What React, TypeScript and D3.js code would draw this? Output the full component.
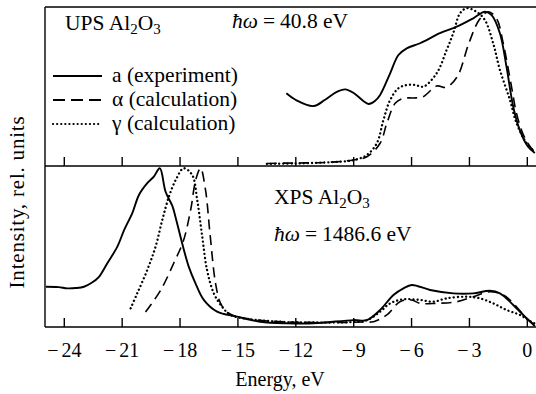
import React from "react";
import * as d3 from "d3";

// Energy (eV) and intensity (% of panel height) for the UPS panel
const upsExperimentE = [-12.49, -12.0, -11.08, -10.5, -9.9, -9.44, -9.0, -8.5, -8.23, -7.9, -7.63, -7.11, -6.68, -6.25, -5.56, -4.53, -3.66, -2.8, -2.2, -1.85, -1.42, -1.08, -0.73, -0.39, 0.04, 0.39];
const upsExperimentI = [45.7, 41.5, 37.7, 41.5, 46.5, 48.2, 45.9, 40.9, 39.0, 40.9, 44.7, 58.3, 69.8, 74.0, 77.2, 83.5, 87.6, 92.9, 97.0, 94.9, 83.5, 62.5, 37.3, 22.6, 12.1, 8.2];

const upsAlphaE = [-13.5, -12, -10.5, -9.0, -8.32, -7.63, -7.28, -6.85, -6.42, -5.9, -5.4, -4.7, -4.2, -3.63, -3.03, -2.5, -2.03, -1.6, -1.25, -0.82, -0.56, -0.2, 0.2, 0.45];
const upsAlphaI = [1.6, 1.9, 2.2, 3.8, 5.8, 14.3, 26.9, 39.4, 42.6, 42.8, 43.6, 50.3, 49.5, 56.2, 77.2, 91.8, 97.0, 92.9, 77.2, 49.9, 33.1, 19.5, 11.3, 8.2];

const upsGammaE = [-13.5, -12, -10.5, -9.3, -8.84, -8.32, -7.8, -7.46, -7.11, -6.68, -6.25, -5.8, -5.39, -4.7, -4.18, -3.84, -3.49, -3.15, -2.63, -2.2, -1.77, -1.42, -0.9, -0.56, -0.04, 0.39];
const upsGammaI = [1.3, 1.6, 2.2, 3.1, 4.2, 6.9, 14.3, 28.9, 41.5, 48.9, 50.9, 50.9, 49.9, 58.3, 73.0, 83.5, 96.0, 99.2, 97.0, 91.8, 77.2, 60.4, 41.5, 27.0, 14.5, 9.0];

// Energy (eV) and intensity (% of panel height) for the XPS panel
const xpsExperimentE = [-24.95, -24.3, -23.84, -23.4, -22.98, -22.6, -22.2, -21.77, -21.25, -20.9, -20.48, -20.13, -19.7, -19.36, -19.05, -18.75, -18.4, -18.24, -17.89, -17.55, -17.2, -16.77, -16.08, -15.04, -13.84, -12.46, -11.08, -9.01, -8.32, -7.63, -6.94, -6.42, -5.99, -5.04, -3.84, -2.8, -1.94, -1.42, -0.73, -0.04, 0.39];
const xpsExperimentI = [25.0, 24.8, 24.0, 24.2, 25.0, 27.3, 31.2, 39.6, 49.9, 60.2, 70.6, 82.0, 89.3, 93.4, 98.6, 84.0, 75.2, 68.5, 52.0, 37.5, 27.1, 16.8, 9.5, 6.4, 3.3, 2.3, 2.3, 4.3, 4.3, 10.6, 19.9, 24.0, 26.1, 23.0, 20.9, 20.9, 22.5, 20.9, 13.7, 5.4, 0.6];

const xpsAlphaE = [-19.79, -19.0, -18.3, -17.83, -17.45, -17.19, -16.94, -16.68, -16.45, -16.16, -15.9, -15.5, -15.0, -14, -12.5, -11, -9.5, -8.5, -7.97, -7.28, -6.6, -6.0, -5.56, -4.7, -3.66, -2.8, -1.94, -1.25, -0.73, -0.04, 0.4];
const xpsAlphaI = [9.3, 23.0, 40.4, 53.4, 72.7, 91.3, 98.6, 85.1, 58.2, 27.1, 14.7, 8.7, 6.2, 4.3, 3.1, 2.8, 2.8, 3.1, 3.3, 7.5, 15.7, 16.8, 14.7, 14.7, 15.7, 18.8, 21.9, 19.9, 14.7, 5.4, 1.2];

const xpsGammaE = [-20.56, -20.22, -19.7, -19.27, -18.92, -18.58, -18.2, -17.81, -17.37, -17.11, -16.85, -16.6, -16.25, -15.82, -15.39, -14.5, -13, -11, -9.0, -8.3, -7.63, -7.11, -6.42, -5.56, -4.87, -4.18, -3.15, -2.46, -1.77, -1.08, -0.39, 0.2, 0.45];
const xpsGammaI = [11.6, 20.9, 35.4, 49.9, 66.5, 80.9, 91.9, 98.6, 94.4, 78.9, 56.1, 35.4, 20.9, 12.6, 7.5, 5.0, 3.4, 2.8, 3.1, 4.3, 9.5, 14.7, 17.2, 16.8, 15.7, 17.8, 18.8, 17.8, 14.7, 10.6, 7.5, 3.3, 1.9];

const xTicks = [-24, -21, -18, -15, -12, -9, -6, -3, 0];
const legendLabels = ["a (experiment)", "\u03b1 (calculation)", "\u03b3 (calculation)"];
const upsEnergyLabel = "40.8 eV";
const xpsEnergyLabel = "1486.6 eV";

const W = 536;
const H = 394;
const left = 45;
const right = 536;
const top = 7;
const mid = 166;
const bottom = 327;
const fontFamily = '"Liberation Serif", "Times New Roman", serif';
const txt = { fontFamily, fontSize: 20, fill: "#000" } as const;
const big = { fontFamily, fontSize: 21.5, fill: "#000" } as const;

const dashStyles = ["none", "10 6", "0.1 4"];

export default function App() {
  const x = d3.scaleLinear().domain([-25, 0.45]).range([left, right]);
  const yUps = d3.scaleLinear().domain([0, 100]).range([mid, top]);
  const yXps = d3.scaleLinear().domain([0, 100]).range([bottom, mid]);

  const mk = (xs: number[], ys: number[], y: d3.ScaleLinear<number, number>) =>
    d3
      .line<number>()
      .x((_, i) => x(xs[i]))
      .y((v) => y(v))
      .curve(d3.curveCatmullRom.alpha(0.5))(ys) || "";

  const upsPaths = [
    mk(upsExperimentE, upsExperimentI, yUps),
    mk(upsAlphaE, upsAlphaI, yUps),
    mk(upsGammaE, upsGammaI, yUps),
  ];
  const xpsPaths = [
    mk(xpsExperimentE, xpsExperimentI, yXps),
    mk(xpsAlphaE, xpsAlphaI, yXps),
    mk(xpsGammaE, xpsGammaI, yXps),
  ];

  const curve = (d: string, k: number, key: string) => (
    <path
      key={key}
      d={d}
      fill="none"
      stroke="#000"
      strokeWidth={k === 0 ? 1.9 : k === 1 ? 1.6 : 2.3}
      strokeDasharray={dashStyles[k]}
      strokeLinecap={k === 2 ? "round" : "butt"}
    />
  );

  const sub = (s: string) => (
    <tspan dy={4} style={{ fontSize: 15 }}>
      {s}
    </tspan>
  );

  const title = (name: string, tx: number, ty: number) => (
    <text x={tx} y={ty} style={big}>
      {name} Al{sub("2")}
      <tspan dy={-4}>O</tspan>
      {sub("3")}
    </text>
  );

  const energy = (label: string, tx: number, ty: number) => (
    <text x={tx} y={ty} style={big}>
      <tspan style={{ fontStyle: "italic" }}>{"\u0127\u03c9"}</tspan>
      <tspan dx={5}>=</tspan>
      <tspan dx={5}>{label}</tspan>
    </text>
  );

  return (
    <svg
      width={W}
      height={H}
      style={{ position: "absolute", left: 0, top: 0, background: "#fff", fontFamily }}
    >
      <defs>
        <clipPath id="plotArea">
          <rect x={left} y={top} width={right - left} height={bottom - top} />
        </clipPath>
      </defs>

      {/* frame and inward ticks */}
      <g stroke="#000" strokeWidth={1.4} fill="none">
        <line x1={left} x2={right} y1={top} y2={top} />
        <line x1={left} x2={right} y1={mid} y2={mid} />
        <line x1={left} x2={right} y1={bottom} y2={bottom} />
        <line x1={left} x2={left} y1={top} y2={bottom} />
        {xTicks.map((t) => (
          <g key={t}>
            <line x1={x(t)} x2={x(t)} y1={mid} y2={mid - 9} />
            <line x1={x(t)} x2={x(t)} y1={bottom} y2={bottom - 9} />
          </g>
        ))}
      </g>

      <g clipPath="url(#plotArea)">
        {upsPaths.map((d, k) => curve(d, k, "u" + k))}
        {xpsPaths.map((d, k) => curve(d, k, "x" + k))}
      </g>

      {/* x tick labels */}
      {xTicks.map((t) => (
        <text key={t} x={x(t)} y={357} style={txt} textAnchor="middle">
          {t < 0 ? (
            <>
              {"\u2212"}
              <tspan dx={3}>{String(Math.abs(t))}</tspan>
            </>
          ) : (
            String(t)
          )}
        </text>
      ))}
      <text x={280} y={386} style={txt} textAnchor="middle">
        Energy, eV
      </text>
      <text
        transform="translate(24,202) rotate(-90)"
        style={{ ...txt, fontSize: 21, letterSpacing: 0.8 }}
        textAnchor="middle"
      >
        Intensity, rel. units
      </text>

      {/* panel titles */}
      {title("UPS", 65, 30)}
      {energy(upsEnergyLabel, 232, 28)}
      {title("XPS", 274, 204)}
      {energy(xpsEnergyLabel, 274, 241)}

      {/* legend */}
      {legendLabels.map((lab, k) => {
        const ly = 76 + k * 24;
        return (
          <g key={lab}>
            <line
              x1={53}
              x2={102}
              y1={ly}
              y2={ly}
              stroke="#000"
              strokeWidth={k === 2 ? 2.2 : 1.8}
              strokeDasharray={k === 1 ? "12 6" : dashStyles[k]}
              strokeLinecap={k === 2 ? "round" : "butt"}
            />
            <text x={112} y={ly + 6} style={big}>
              {lab}
            </text>
          </g>
        );
      })}
    </svg>
  );
}
